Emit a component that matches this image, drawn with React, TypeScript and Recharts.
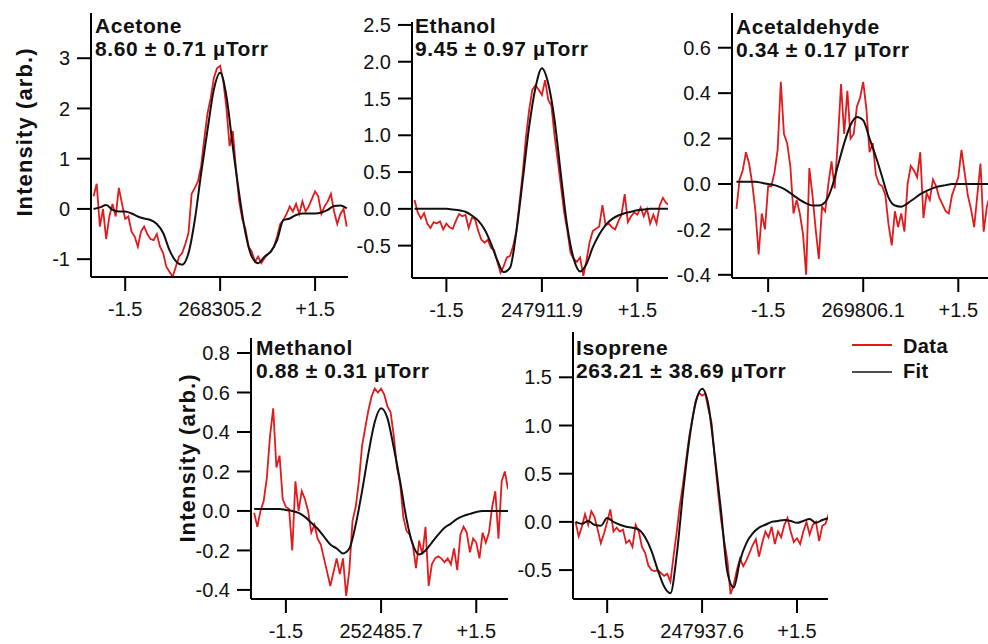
import { LineChart, Line, XAxis, YAxis } from 'recharts';

// offsets from line centre (cm-1), data sampled every 0.05, fit every 0.1
const X_DATA = [
  -2, -1.95, -1.9, -1.85, -1.8, -1.75, -1.7, -1.65, -1.6, -1.55,
  -1.5, -1.45, -1.4, -1.35, -1.3, -1.25, -1.2, -1.15, -1.1, -1.05,
  -1, -0.95, -0.9, -0.85, -0.8, -0.75, -0.7, -0.65, -0.6, -0.55,
  -0.5, -0.45, -0.4, -0.35, -0.3, -0.25, -0.2, -0.15, -0.1, -0.05,
  0, 0.05, 0.1, 0.15, 0.2, 0.25, 0.3, 0.35, 0.4, 0.45,
  0.5, 0.55, 0.6, 0.65, 0.7, 0.75, 0.8, 0.85, 0.9, 0.95,
  1, 1.05, 1.1, 1.15, 1.2, 1.25, 1.3, 1.35, 1.4, 1.45,
  1.5, 1.55, 1.6, 1.65, 1.7, 1.75, 1.8, 1.85, 1.9, 1.95,
  2,
];
const X_FIT = [
  -2, -1.9, -1.8, -1.7, -1.6, -1.5, -1.4, -1.3, -1.2, -1.1,
  -1, -0.9, -0.8, -0.7, -0.6, -0.5, -0.4, -0.3, -0.2, -0.1,
  0, 0.1, 0.2, 0.3, 0.4, 0.5, 0.6, 0.7, 0.8, 0.9,
  1, 1.1, 1.2, 1.3, 1.4, 1.5, 1.6, 1.7, 1.8, 1.9,
  2,
];
const X_TICKS = [-1.5, 0, 1.5];

const NAMES = ['Acetone', 'Ethanol', 'Acetaldehyde', 'Methanol', 'Isoprene'];
const PRESSURES = [
  '8.60 ± 0.71 µTorr',
  '9.45 ± 0.97 µTorr',
  '0.34 ± 0.17 µTorr',
  '0.88 ± 0.31 µTorr',
  '263.21 ± 38.69 µTorr',
];
const CENTERS = ['268305.2', '247911.9', '269806.1', '252485.7', '247937.6'];

const ACETONE_Y_TICKS = [-1, 0, 1, 2, 3];
const ETHANOL_Y_TICKS = [-0.5, 0, 0.5, 1, 1.5, 2, 2.5];
const ACETALDEHYDE_Y_TICKS = [-0.4, -0.2, 0, 0.2, 0.4, 0.6];
const METHANOL_Y_TICKS = [-0.4, -0.2, 0, 0.2, 0.4, 0.6, 0.8];
const ISOPRENE_Y_TICKS = [-0.5, 0, 0.5, 1, 1.5];

const ACETONE_DATA = [
  0.25, 0.5, -0.35, 0.0, -0.6, -0.15, 0.1, -0.15, 0.42, 0.1,
  -0.2, -0.15, -0.45, -0.55, -0.75, -0.45, -0.35, -0.5, -0.6, -0.62,
  -0.5, -0.75, -0.88, -1.15, -1.25, -1.35, -1.15, -0.95, -0.88, -0.7,
  -0.48, 0.3, 0.42, 0.55, 0.85, 1.4, 1.9, 2.2, 2.6, 2.8,
  2.85, 2.55, 2.0, 1.25, 1.55, 0.8, 0.15, -0.2, -0.4, -0.75,
  -0.85, -1.05, -0.95, -1.08, -0.98, -0.9, -0.85, -0.75, -0.55, -0.3,
  -0.22, -0.1, 0.05, -0.05, 0.1, -0.1, 0.15, -0.05, 0.05, 0.2,
  0.35, 0.25, -0.1, 0.05, 0.15, 0.3, -0.05, -0.3, -0.1, 0.0,
  -0.35,
];
const ACETONE_FIT = [
  0.0, 0.03, 0.08, -0.02, -0.05, -0.05, -0.09, -0.15, -0.19, -0.22,
  -0.3, -0.48, -0.82, -1.04, -1.11, -0.88, -0.22, 0.71, 1.57, 2.37,
  2.71, 2.24, 1.24, 0.31, -0.48, -0.95, -1.08, -0.95, -0.85, -0.62,
  -0.22, -0.19, -0.12, -0.09, -0.09, -0.09, -0.07, -0.02, 0.06, 0.07,
  0.01,
];

const ETHANOL_DATA = [
  0.12, -0.05, -0.13, -0.06, -0.2, -0.26, -0.18, -0.2, -0.17, -0.28,
  -0.2, -0.25, -0.27, -0.16, -0.07, -0.1, -0.08, -0.26, -0.12, -0.14,
  -0.3, -0.42, -0.46, -0.42, -0.53, -0.56, -0.72, -0.87, -0.78, -0.66,
  -0.64, -0.5, -0.3, 0.1, 0.5, 0.98, 1.35, 1.62, 1.68, 1.62,
  1.55, 1.75, 1.48, 1.4, 0.98, 0.65, 0.3, -0.05, -0.3, -0.6,
  -0.68, -0.72, -0.66, -0.91, -0.7, -0.45, -0.3, -0.27, -0.24, 0.05,
  -0.22, -0.2, -0.25, -0.28, -0.17, -0.08, 0.2, -0.18, -0.1, -0.05,
  -0.08, 0.02, -0.1, 0.0, -0.2, -0.08, -0.2, 0.05, 0.15, 0.08,
  0.05,
];
const ETHANOL_FIT = [
  0, 0, 0, 0, 0, 0, -0.01, -0.02, -0.04, -0.09,
  -0.16, -0.28, -0.47, -0.7, -0.86, -0.8, -0.3, 0.4, 1.12, 1.65,
  1.91, 1.7, 1.2, 0.45, -0.25, -0.68, -0.85, -0.75, -0.52, -0.35,
  -0.22, -0.14, -0.09, -0.06, -0.04, -0.02, -0.01, 0, 0, 0,
  0,
];

const ACETALDEHYDE_DATA = [
  -0.11, 0.02, 0.06, 0.14, 0.09, 0.0, -0.12, -0.31, -0.13, -0.2,
  -0.01, -0.01, 0.05, 0.15, 0.45, 0.22, 0.18, 0.08, -0.13, -0.07,
  -0.13, -0.22, -0.4, 0.07, -0.05, -0.2, -0.33, -0.1, -0.12, 0.0,
  0.1, -0.02, 0.19, 0.44, 0.22, 0.41, 0.2, 0.22, 0.34, 0.38,
  0.45, 0.33, 0.14, 0.18, 0.04, 0.0, -0.01, -0.05, -0.18, -0.27,
  -0.12, -0.19, -0.13, -0.21, 0.0, 0.08, 0.06, 0.03, 0.14, -0.15,
  -0.04, -0.07, 0.02, -0.01, -0.06, -0.09, -0.12, -0.13, -0.05, -0.01,
  0.03, 0.15, 0.05, -0.05, -0.11, -0.19, -0.05, 0.09, -0.21, -0.1,
  -0.05,
];
const ACETALDEHYDE_FIT = [
  0.01, 0.01, 0.01, 0.01, 0.005, 0.0, -0.005, -0.015, -0.03, -0.05,
  -0.07, -0.085, -0.095, -0.095, -0.08, -0.02, 0.08, 0.18, 0.26, 0.295,
  0.28, 0.2, 0.12, 0.03, -0.06, -0.095, -0.1, -0.085, -0.065, -0.045,
  -0.03, -0.018, -0.01, -0.005, 0, 0, 0, 0, 0, 0,
  0,
];

const METHANOL_DATA = [
  -0.01, -0.08, 0.0, 0.05, 0.17, 0.38, 0.52, 0.22, 0.28, 0.06,
  0.02, 0.01, -0.2, 0.15, 0.0, 0.1, 0.06, 0.0, -0.11, -0.07,
  -0.14, -0.17, -0.24, -0.31, -0.38, -0.31, -0.24, -0.32, -0.24, -0.43,
  -0.3, -0.05, 0.02, 0.15, 0.33, 0.42, 0.51, 0.58, 0.62, 0.6,
  0.62, 0.59, 0.53, 0.5, 0.38, 0.22, 0.14, -0.03, -0.1, -0.12,
  -0.17, -0.29, -0.15, -0.22, -0.08, -0.38, -0.27, -0.24, -0.23, -0.24,
  -0.26, -0.24, -0.27, -0.19, -0.3, -0.12, -0.08, -0.11, -0.21, -0.14,
  -0.16, -0.24, -0.11, -0.16, -0.11, 0.02, 0.1, -0.14, 0.15, 0.2,
  0.11,
];
const METHANOL_FIT = [
  0.01, 0.01, 0.01, 0.01, 0.01, 0.005, 0.0, -0.01, -0.03, -0.06,
  -0.09, -0.13, -0.17, -0.19, -0.215, -0.19, -0.07, 0.1, 0.29, 0.45,
  0.52, 0.47, 0.32, 0.15, -0.04, -0.17, -0.22, -0.2, -0.16, -0.12,
  -0.085, -0.064, -0.04, -0.025, -0.015, -0.005, 0, 0, 0, 0,
  0,
];

const ISOPRENE_DATA = [
  0.0, -0.15, -0.05, 0.08, -0.03, 0.11, 0.05, -0.08, -0.22, -0.12,
  0.0, 0.13, -0.1, -0.06, -0.1, -0.08, -0.22, -0.19, -0.26, -0.03,
  -0.1, -0.26, -0.32, -0.45, -0.5, -0.51, -0.5, -0.53, -0.56, -0.54,
  -0.62, -0.35, -0.1, 0.18, 0.4, 0.65, 0.9, 1.08, 1.26, 1.34,
  1.31, 1.33, 1.17, 1.03, 0.66, 0.33, 0.02, -0.2, -0.4, -0.75,
  -0.65, -0.5, -0.38, -0.46, -0.4, -0.32, -0.24, -0.18, -0.36, -0.22,
  -0.1, -0.16, -0.05, -0.23, -0.1, -0.16, -0.03, 0.04, -0.1, -0.21,
  -0.17, -0.23, -0.1, 0.0, -0.13, -0.03, 0.0, -0.2, -0.04, -0.02,
  0.08,
];
const ISOPRENE_FIT = [
  0.0, -0.02, 0.01, -0.03, -0.04, 0.04, 0.0, -0.03, -0.05, -0.06,
  -0.08, -0.16, -0.3, -0.5, -0.67, -0.74, -0.34, 0.31, 0.86, 1.24,
  1.38, 1.21, 0.69, 0.11, -0.52, -0.68, -0.4, -0.22, -0.12, -0.06,
  -0.03, 0.0, 0.01, 0.02, 0.01, -0.01, 0.01, 0.03, -0.01, 0.02,
  0.04,
];

const FONT = '"Liberation Sans", Arial, sans-serif';
const RED = '#e31a1c';
const INK = '#111';

// plot boxes in page pixels
const PANELS = [
  { data: ACETONE_DATA, fit: ACETONE_FIT, yTicks: ACETONE_Y_TICKS, dec: 0,
    left: 91, top: 13, right: 348, bottom: 277, xd: [-2.04, 2.02], yd: [-1.355, 3.9], title: [95, 33] },
  { data: ETHANOL_DATA, fit: ETHANOL_FIT, yTicks: ETHANOL_Y_TICKS, dec: 1,
    left: 412, top: 22, right: 668, bottom: 278, xd: [-2.04, 1.98], yd: [-0.94, 2.54], title: [415, 33] },
  { data: ACETALDEHYDE_DATA, fit: ACETALDEHYDE_FIT, yTicks: ACETALDEHYDE_Y_TICKS, dec: 1,
    left: 732, top: 13, right: 990, bottom: 278, xd: [-2.07, 2.0], yd: [-0.414, 0.753], title: [736, 34] },
  { data: METHANOL_DATA, fit: METHANOL_FIT, yTicks: METHANOL_Y_TICKS, dec: 1,
    left: 251, top: 338, right: 508, bottom: 599, xd: [-2.05, 2.0], yd: [-0.446, 0.876], title: [256, 355] },
  { data: ISOPRENE_DATA, fit: ISOPRENE_FIT, yTicks: ISOPRENE_Y_TICKS, dec: 1,
    left: 573, top: 332, right: 828, bottom: 599, xd: [-2.04, 1.99], yd: [-0.8, 1.97], title: [576, 355] },
];

const YW = 80;
const XH = 50;
const PAD = 16;

function Panel({ p, center }: { p: (typeof PANELS)[number]; center: string }) {
  const w = p.right - p.left;
  const h = p.bottom - p.top;
  const dataRows = X_DATA.map((x, i) => ({ x, y: p.data[i] }));
  const fitRows = X_FIT.map((x, i) => ({ x, y: p.fit[i] }));
  const xLabels = ['-1.5', center, '+1.5'];
  const tickStyle = { fontSize: 20, fill: INK, fontFamily: FONT };
  const axisStyle = { stroke: '#000', strokeWidth: 2 };

  return (
    <div style={{ position: 'absolute', left: p.left - YW, top: p.top - PAD }}>
      <LineChart width={w + YW + PAD} height={h + PAD + XH} margin={{ top: PAD, right: PAD, bottom: 0, left: 0 }}>
        <XAxis
          dataKey="x"
          type="number"
          domain={p.xd}
          allowDataOverflow
          ticks={X_TICKS}
          interval={0}
          tickFormatter={(v: number) => xLabels[X_TICKS.indexOf(v)] ?? ''}
          height={XH}
          tickSize={14}
          tickMargin={11}
          tick={tickStyle}
          axisLine={axisStyle}
          tickLine={axisStyle}
        />
        <YAxis
          type="number"
          domain={p.yd}
          allowDataOverflow
          ticks={p.yTicks}
          interval={0}
          tickFormatter={(v: number) => v.toFixed(p.dec)}
          width={YW}
          tickSize={14}
          tickMargin={7}
          tick={tickStyle}
          axisLine={axisStyle}
          tickLine={axisStyle}
        />
        <Line
          data={dataRows}
          dataKey="y"
          type="linear"
          stroke={RED}
          strokeWidth={1.8}
          dot={false}
          activeDot={false}
          isAnimationActive={false}
        />
        <Line
          data={fitRows}
          dataKey="y"
          type="monotone"
          stroke={INK}
          strokeWidth={2}
          dot={false}
          activeDot={false}
          isAnimationActive={false}
        />
      </LineChart>
    </div>
  );
}

export default function App() {
  const titleStyle = { fontFamily: FONT, fontSize: 21, fontWeight: 700, letterSpacing: 0.6, fill: INK };
  const legendStyle = { fontFamily: FONT, fontSize: 20, fontWeight: 700, letterSpacing: 0.4, fill: INK };
  const ylabStyle = { fontFamily: FONT, fontSize: 22, fontWeight: 700, letterSpacing: 1.1, fill: INK };

  return (
    <div
      style={{
        position: 'absolute',
        left: 0,
        top: 0,
        width: 988,
        height: 644,
        overflow: 'hidden',
        background: '#fff',
        fontFamily: FONT,
      }}
    >
      {PANELS.map((p, i) => (
        <Panel key={NAMES[i]} p={p} center={CENTERS[i]} />
      ))}

      <svg width={988} height={644} style={{ position: 'absolute', left: 0, top: 0, pointerEvents: 'none' }}>
        {PANELS.map((p, i) => (
          <g key={NAMES[i]}>
            <text x={p.title[0]} y={p.title[1]} style={titleStyle}>
              {NAMES[i]}
            </text>
            <text x={p.title[0]} y={p.title[1] + 23} style={titleStyle}>
              {PRESSURES[i]}
            </text>
          </g>
        ))}

        <text transform="translate(24,132) rotate(-90)" textAnchor="middle" dominantBaseline="central" style={ylabStyle}>
          Intensity (arb.)
        </text>
        <text transform="translate(187,458) rotate(-90)" textAnchor="middle" dominantBaseline="central" style={ylabStyle}>
          Intensity (arb.)
        </text>

        <line x1={852} x2={892} y1={345} y2={345} stroke={RED} strokeWidth={2} />
        <text x={903} y={353} style={legendStyle}>
          Data
        </text>
        <line x1={852} x2={892} y1={372} y2={372} stroke={INK} strokeWidth={1.5} />
        <text x={903} y={378} style={legendStyle}>
          Fit
        </text>
      </svg>
    </div>
  );
}
